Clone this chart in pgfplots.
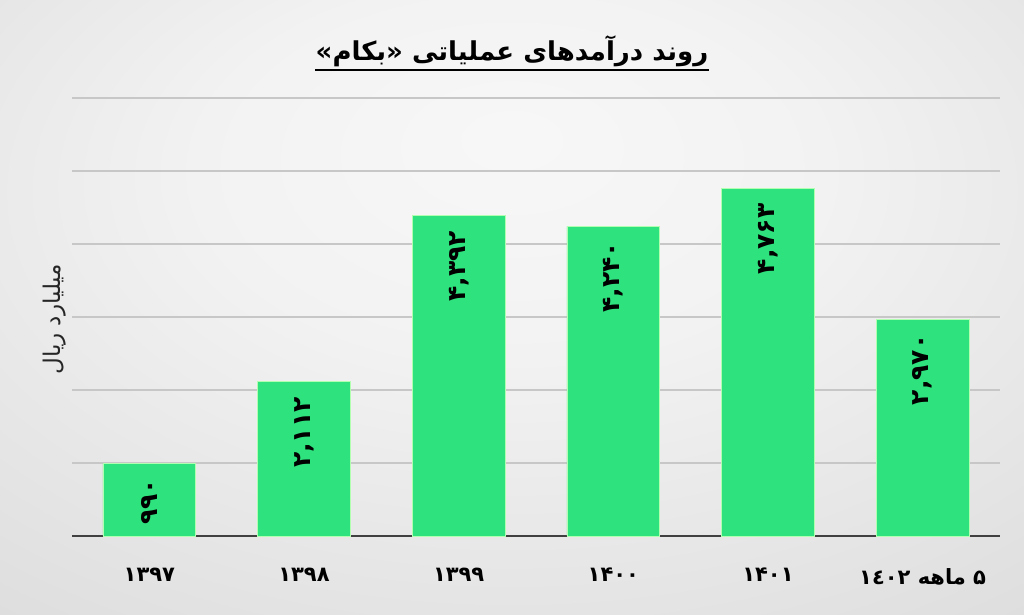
\documentclass[border=0pt]{standalone}
\usepackage{fontspec}
\usepackage{pgfplots}
\pgfplotsset{compat=1.18}
\TeXXeTstate=1
\newfontfamily\arabicfont[Script=Arabic]{DejaVu Sans}
\definecolor{bargreen}{HTML}{2EE27D}
\pgfdeclareradialshading{bg}{\pgfpoint{0bp}{14bp}}{color(0bp)=(black!3); color(15bp)=(black!5); color(50bp)=(black!16); color(75bp)=(black!30)}
\begin{document}
\begin{tikzpicture}
\useasboundingbox (0,0) rectangle (512pt,307.5pt);
\shade[shading=bg] (0,0) rectangle (512pt,307.5pt);
\begin{axis}[
  at={(36pt,39.5pt)}, anchor=south west,
  scale only axis, width=464pt, height=219pt,
  xmin=-0.5, xmax=5.5, ymin=0, ymax=6000,
  ybar, bar width=0.6,
  xtick={0,1,2,3,4,5},
  xticklabels={{۱۳۹۷},{۱۳۹۸},{۱۳۹۹},{۱۴۰۰},{۱۴۰۱},{\beginR ۵ ماهه ١٤٠٢\endR}},
  xticklabel style={font=\arabicfont\bfseries\fontsize{10.5}{12}\selectfont, yshift=-12.5pt, text=black},
  ytick={0,1000,2000,3000,4000,5000,6000},
  yticklabels={},
  ymajorgrids,
  grid style={draw=black!22, line width=0.8pt},
  major tick length=0pt,
  axis x line*=bottom, axis y line*=left,
  y axis line style={draw=none},
  x axis line style={draw=black!75, line width=1.1pt, -},
  ylabel={\beginR میلیارد ریال\endR},
  every axis y label/.style={at={(axis description cs:-0.019,0.495)}, rotate=90, anchor=center, font=\arabicfont\fontsize{11.5}{13}\selectfont, text=black!85},
  point meta=explicit symbolic,
  nodes near coords,
  every node near coord/.append style={rotate=90, anchor=east, inner xsep=7.5pt, font=\arabicfont\bfseries\fontsize{12.5}{14}\selectfont, text=black},
  clip=false,
]
\addplot[fill=bargreen, draw=green!30!white, line width=0.4pt] coordinates {
  (0,990) [۹۹۰]
  (1,2112) [۲,۱۱۲]
  (2,4392) [۴,۳۹۲]
  (3,4240) [۴,۲۴۰]
  (4,4763) [۴,۷۶۳]
  (5,2970) [۲,۹۷۰]
};
\end{axis}
\node[font=\arabicfont\bfseries\fontsize{13}{16}\selectfont, inner sep=0pt, anchor=base] (t) at (256pt,277pt) {\beginR روند درآمدهای عملیاتی «بکام»\endR};
\draw[line width=1.1pt] ([yshift=-4.5pt]t.base west) -- ([yshift=-4.5pt]t.base east);
\end{tikzpicture}
\end{document}
